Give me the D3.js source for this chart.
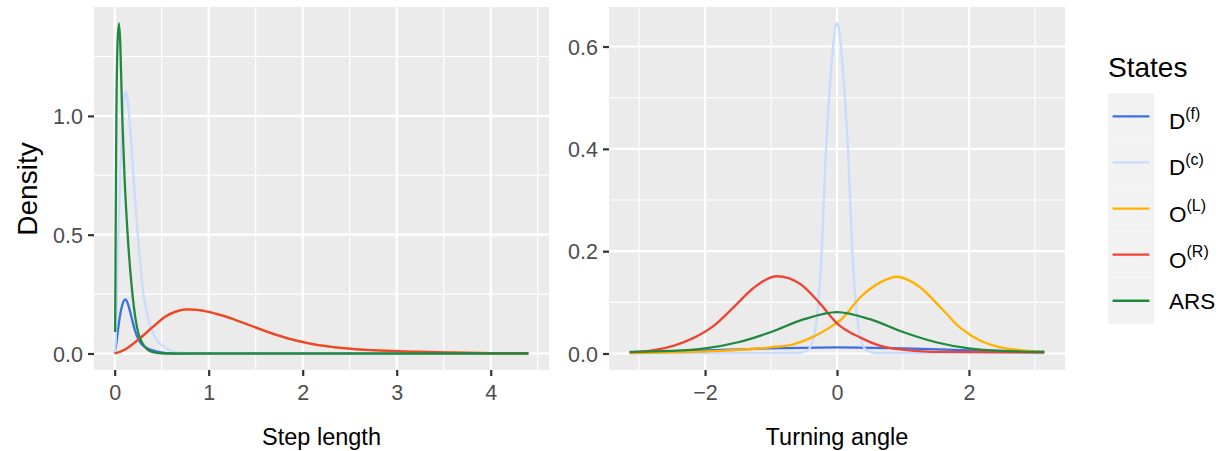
<!DOCTYPE html>
<html><head><meta charset="utf-8">
<script src="https://cdn.jsdelivr.net/npm/d3@7"></script>
<style>body{margin:0;background:#fff}svg{display:block}</style>
</head><body>
<svg id="chart" width="1223" height="451"></svg>
<script>
// ---------------- data ----------------
const stateNames = ["D(f)", "D(c)", "O(L)", "O(R)", "ARS"];
const legendBase = ["D", "D", "O", "O", "ARS"];
const legendSup  = ["(f)", "(c)", "(L)", "(R)", ""];
const stateColors = ["#3A6FE8", "#C9DCFD", "#FFB000", "#EE4433", "#20893F"];

// Step length densities [x, density]
const stepDf = [[0,0],[0.02,0.05],[0.035,0.098],[0.061,0.169],[0.09,0.215],[0.114,0.228],[0.14,0.21],[0.165,0.175],[0.19,0.135],[0.215,0.098],[0.28,0.042],[0.37,0.018],[0.45,0.008],[0.55,0.002],[0.65,0],[4.4,0]];
const stepDc = [[0,0],[0.01,0.05],[0.024,0.253],[0.039,0.5],[0.06,0.77],[0.08,0.96],[0.1,1.07],[0.12,1.104],[0.14,1.06],[0.17,0.92],[0.2,0.745],[0.245,0.5],[0.305,0.253],[0.36,0.14],[0.426,0.07],[0.5,0.035],[0.565,0.018],[0.65,0.006],[0.75,0.002],[0.9,0],[4.4,0]];
// O(L) and O(R) share the same step-length curve (orange lies under the red)
const stepOL = [[0,0],[0.1,0.015],[0.25,0.058],[0.4,0.11],[0.55,0.158],[0.65,0.176],[0.77,0.186],[0.9,0.183],[1.0,0.175],[1.1,0.165],[1.2,0.153],[1.3,0.139],[1.45,0.117],[1.65,0.088],[1.86,0.062],[2.08,0.042],[2.43,0.023],[2.79,0.013],[3.14,0.008],[3.5,0.005],[4.0,0.002],[4.4,0.001]];
const stepOR = [[0,0],[0.1,0.015],[0.25,0.058],[0.4,0.11],[0.55,0.158],[0.65,0.176],[0.77,0.186],[0.9,0.183],[1.0,0.175],[1.1,0.165],[1.2,0.153],[1.3,0.139],[1.45,0.117],[1.65,0.088],[1.86,0.062],[2.08,0.042],[2.43,0.023],[2.79,0.013],[3.14,0.008],[3.5,0.005],[4.0,0.002],[4.4,0.001]];
const stepARS = [[0.005,0.09],[0.01,0.5],[0.018,1.0],[0.03,1.3],[0.046,1.389],[0.06,1.3],[0.08,1.0],[0.105,0.74],[0.138,0.5],[0.188,0.253],[0.22,0.15],[0.255,0.08],[0.3,0.04],[0.355,0.014],[0.42,0.005],[0.5,0.001],[0.6,0],[4.4,0]];

// Turning angle densities [angle, density]
const angDf = [[-3.1416,0.002],[-2,0.006],[-1,0.010],[0,0.012],[1,0.010],[2,0.006],[3.1416,0.003]];
const angDc = [[-3.1416,0.0005],[-0.6,0.001],[-0.45,0.006],[-0.36,0.028],[-0.29,0.088],[-0.23,0.205],[-0.17,0.39],[-0.12,0.5],[-0.06,0.6],[-0.03,0.635],[0,0.645],[0.03,0.635],[0.06,0.6],[0.12,0.5],[0.17,0.39],[0.23,0.205],[0.29,0.088],[0.36,0.028],[0.45,0.006],[0.6,0.001],[3.1416,0.0005]];
const angOL = [[-3.1416,0.001],[-1.77,0.005],[-1.01,0.012],[-0.66,0.018],[-0.355,0.033],[-0.05,0.056],[0.05,0.065],[0.354,0.11],[0.657,0.139],[0.91,0.15],[1.264,0.129],[1.57,0.09],[1.87,0.05],[2.175,0.025],[2.48,0.012],[2.78,0.0067],[3.1416,0.003]];
const angOR = [[-3.1416,0.002],[-2.78,0.0067],[-2.48,0.015],[-2.18,0.03],[-1.87,0.054],[-1.57,0.09],[-1.265,0.128],[-0.91,0.151],[-0.557,0.136],[-0.253,0.097],[0,0.059],[0.354,0.031],[0.657,0.015],[1.06,0.0067],[1.57,0.003],[3.1416,0.002]];
const angARS = [[-3.1416,0.003],[-2.5,0.005],[-2.0,0.010],[-1.5,0.022],[-1.0,0.042],[-0.5,0.067],[0,0.081],[0.5,0.067],[1.0,0.042],[1.5,0.022],[2.0,0.010],[2.5,0.005],[3.1416,0.003]];

const stepTicksX = [0, 1, 2, 3, 4];
const stepTicksY = [0, 0.5, 1.0];
const angTicksX = [-2, 0, 2];
const angTicksY = [0, 0.2, 0.4, 0.6];

const stepSeries = [stepDf, stepDc, stepOL, stepOR, stepARS];
const angSeries  = [angDf, angDc, angOL, angOR, angARS];

// ---------------- drawing ----------------
const FONT = "'Liberation Sans', Arial, Helvetica, sans-serif";
const svg = d3.select("#chart").style("font-family", FONT);

function expand(lo, hi){ const d=(hi-lo)*0.05; return [lo-d, hi+d]; }

function panel(opts){
  const {x0,x1,y0,y1,xdom,ydom,xticks,yticks,xminor,yminor,series,xfmt,yfmt,xtitle,id} = opts;
  const x = d3.scaleLinear().domain(xdom).range([x0,x1]);
  const y = d3.scaleLinear().domain(ydom).range([y1,y0]);
  const g = svg.append("g");
  g.append("rect").attr("x",x0).attr("y",y0).attr("width",x1-x0).attr("height",y1-y0).attr("fill","#EBEBEB");
  g.selectAll(".minx").data(xminor).join("line").attr("x1",d=>x(d)).attr("x2",d=>x(d)).attr("y1",y0).attr("y2",y1).attr("stroke","#fff").attr("stroke-width",1.1);
  g.selectAll(".miny").data(yminor).join("line").attr("y1",d=>y(d)).attr("y2",d=>y(d)).attr("x1",x0).attr("x2",x1).attr("stroke","#fff").attr("stroke-width",1.1);
  g.selectAll(".majx").data(xticks).join("line").attr("x1",d=>x(d)).attr("x2",d=>x(d)).attr("y1",y0).attr("y2",y1).attr("stroke","#fff").attr("stroke-width",2.2);
  g.selectAll(".majy").data(yticks).join("line").attr("y1",d=>y(d)).attr("y2",d=>y(d)).attr("x1",x0).attr("x2",x1).attr("stroke","#fff").attr("stroke-width",2.2);

  svg.append("clipPath").attr("id",id).append("rect").attr("x",x0).attr("y",y0).attr("width",x1-x0).attr("height",y1-y0);
  const line = d3.line().x(d=>x(d[0])).y(d=>y(d[1])).curve(d3.curveMonotoneX);
  const lg = g.append("g").attr("clip-path",`url(#${id})`);
  series.forEach((s,i)=>{
    lg.append("path").attr("d",line(s)).attr("fill","none").attr("stroke",stateColors[i]).attr("stroke-width",2.3).attr("stroke-linejoin","round").attr("stroke-linecap","butt");
  });

  // axes
  const xa = d3.axisBottom(x).tickValues(xticks).tickSize(6).tickPadding(4).tickFormat(xfmt);
  const xg = svg.append("g").attr("transform",`translate(0,${y1})`).call(xa);
  const ya = d3.axisLeft(y).tickValues(yticks).tickSize(6).tickPadding(5).tickFormat(yfmt);
  const yg = svg.append("g").attr("transform",`translate(${x0},0)`).call(ya);
  [xg,yg].forEach(a=>{
    a.select(".domain").remove();
    a.selectAll(".tick line").attr("stroke","#333333").attr("stroke-width",2.2);
    a.selectAll(".tick text").attr("fill","#4D4D4D").style("font-size","21.5px").style("font-family",FONT);
  });
  xg.selectAll(".tick text").attr("dy","0.95em");
  yg.selectAll(".tick text").attr("dy","0.35em");
  svg.append("text").attr("x",(x0+x1)/2).attr("y",445).attr("text-anchor","middle").attr("fill","#000").style("font-size","23.5px").text(xtitle);
}

const minus = d => (d<0 ? "\u2212"+Math.abs(d) : String(d));

panel({id:"clipL", x0:94, x1:549, y0:7, y1:370,
  xdom: expand(0,4.4), ydom: expand(0,1.389),
  xticks: stepTicksX, yticks: stepTicksY,
  xminor:[0.5,1.5,2.5,3.5,4.5], yminor:[0.25,0.75,1.25],
  series: stepSeries, xfmt: d=>String(d), yfmt: d3.format(".1f"), xtitle:"Step length"});

panel({id:"clipR", x0:609, x1:1065, y0:7, y1:370,
  xdom: expand(-Math.PI,Math.PI), ydom: expand(0,0.645),
  xticks: angTicksX, yticks: angTicksY,
  xminor:[-3,-1,1,3], yminor:[0.1,0.3,0.5],
  series: angSeries, xfmt: minus, yfmt: d3.format(".1f"), xtitle:"Turning angle"});

// y title
svg.append("text").attr("transform","translate(37,189) rotate(-90)").attr("text-anchor","middle").attr("fill","#000").style("font-size","28px").text("Density");

// legend
const lgX = 1108, keyW = 46, keyH = 46.1, keyTop = 93.3;
svg.append("text").attr("x",lgX).attr("y",76.7).attr("fill","#000").style("font-size","28px").text("States");
stateNames.forEach((n,i)=>{
  const cy = keyTop + keyH*i + keyH/2;
  svg.append("rect").attr("x",lgX).attr("y",keyTop+keyH*i).attr("width",keyW).attr("height",keyH).attr("fill","#F2F2F2");
  svg.append("line").attr("x1",lgX+4.6).attr("x2",lgX+keyW-4.6).attr("y1",cy).attr("y2",cy).attr("stroke",stateColors[i]).attr("stroke-width",2.3);
  const t = svg.append("text").attr("x",1169).attr("y", legendSup[i] ? cy+13 : cy+8.7).attr("fill","#000").style("font-size","22.5px");
  t.append("tspan").text(legendBase[i]);
  if (legendSup[i]) t.append("tspan").attr("dy",-10.7).style("font-size","16px").text(legendSup[i]);
});
</script>
</body></html>
